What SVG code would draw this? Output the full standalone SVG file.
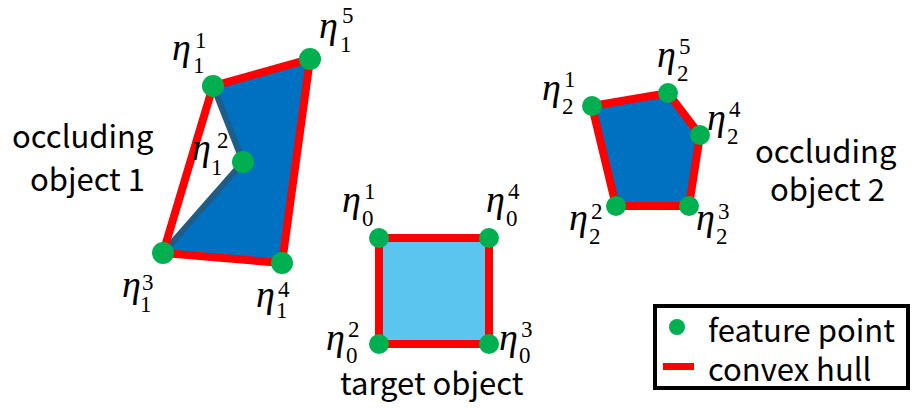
<svg xmlns="http://www.w3.org/2000/svg" width="912" height="409" viewBox="0 0 912 409">
<style>
.hull{fill:none;stroke:#FF0000;stroke-width:8;stroke-linejoin:miter}
.pt{fill:#00B050}
.eta{font-family:"Liberation Serif",serif;font-style:italic;font-size:38px;fill:#000}
.idx{font-family:"Liberation Serif",serif;font-size:23px;fill:#000}
.lbl{font-family:"Noto Sans CJK SC","Noto Sans",sans-serif;font-size:31px;fill:#000}
</style>
<rect width="912" height="409" fill="#fff"/>
<g id="object1">
<polygon points="213,86 310,59 282,263 163,253 243,162" fill="#0070C0"/>
<polyline points="213,86 243,162 163,253" fill="none" stroke="#1F5C86" stroke-width="6"/>
<polygon class="hull" points="213,86 310,59 282,263 163,253"/>
<circle class="pt" cx="213" cy="86" r="11"/>
<circle class="pt" cx="310" cy="59" r="11"/>
<circle class="pt" cx="243" cy="162" r="11"/>
<circle class="pt" cx="163" cy="253" r="11"/>
<circle class="pt" cx="282" cy="263" r="11"/>
</g>
<g id="object2">
<polygon points="592,106 668,93 700,135 689,206 616,206" fill="#0070C0"/>
<polygon class="hull" points="592,106 668,93 700,135 689,206 616,206"/>
<circle class="pt" cx="592" cy="106" r="10"/>
<circle class="pt" cx="668" cy="93" r="10"/>
<circle class="pt" cx="700" cy="135" r="10"/>
<circle class="pt" cx="689" cy="206" r="10"/>
<circle class="pt" cx="616" cy="206" r="10"/>
</g>
<g id="target">
<rect x="379" y="238" width="110" height="106" fill="#5BC5F0"/>
<rect class="hull" x="379" y="238" width="110" height="106"/>
<circle class="pt" cx="379" cy="238" r="10"/>
<circle class="pt" cx="489" cy="238" r="10"/>
<circle class="pt" cx="379" cy="344" r="10"/>
<circle class="pt" cx="489" cy="344" r="10"/>
</g>
<g id="labels">
<text class="eta" x="172" y="60">η</text><text class="idx" x="195" y="48">1</text><text class="idx" x="193" y="73">1</text>
<text class="eta" x="319" y="38">η</text><text class="idx" x="342" y="23">5</text><text class="idx" x="340" y="52">1</text>
<text class="eta" x="192" y="160">η</text><text class="idx" x="217" y="148">2</text><text class="idx" x="211" y="175">1</text>
<text class="eta" x="122" y="297">η</text><text class="idx" x="142" y="290">3</text><text class="idx" x="140" y="312">1</text>
<text class="eta" x="256" y="307">η</text><text class="idx" x="278" y="297">4</text><text class="idx" x="276" y="318">1</text>
<text class="eta" x="342" y="212">η</text><text class="idx" x="364" y="199">1</text><text class="idx" x="362" y="226">0</text>
<text class="eta" x="486" y="212">η</text><text class="idx" x="508" y="199">4</text><text class="idx" x="506" y="226">0</text>
<text class="eta" x="326" y="350">η</text><text class="idx" x="348" y="337">2</text><text class="idx" x="346" y="363">0</text>
<text class="eta" x="499" y="350">η</text><text class="idx" x="521" y="337">3</text><text class="idx" x="519" y="363">0</text>
<text class="eta" x="542" y="100">η</text><text class="idx" x="564" y="87">1</text><text class="idx" x="562" y="114">2</text>
<text class="eta" x="657" y="67">η</text><text class="idx" x="679" y="54">5</text><text class="idx" x="677" y="81">2</text>
<text class="eta" x="707" y="130">η</text><text class="idx" x="729" y="117">4</text><text class="idx" x="727" y="144">2</text>
<text class="eta" x="569" y="230">η</text><text class="idx" x="591" y="219">2</text><text class="idx" x="589" y="244">2</text>
<text class="eta" x="696" y="230">η</text><text class="idx" x="718" y="219">3</text><text class="idx" x="716" y="244">2</text>
<text class="lbl" x="12" y="148">occluding</text>
<text class="lbl" x="30" y="191">object 1</text>
<text class="lbl" x="755" y="163">occluding</text>
<text class="lbl" x="770" y="201">object 2</text>
<text class="lbl" x="340" y="395">target object</text>
</g>
<g id="legend">
<rect x="655" y="306" width="253" height="82" fill="#fff" stroke="#000" stroke-width="4"/>
<circle class="pt" cx="677" cy="327" r="8"/>
<rect x="663" y="363" width="31" height="7" fill="#FF0000"/>
<text class="lbl" x="708" y="342">feature point</text>
<text class="lbl" x="708" y="381">convex hull</text>
</g>
</svg>
